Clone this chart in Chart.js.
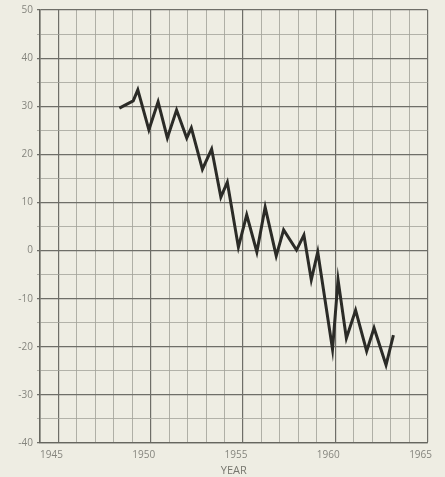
<!DOCTYPE html>
<html>
<head>
<meta charset="utf-8">
<script src="https://cdn.jsdelivr.net/npm/chart.js@4"></script>
<style>
  html, body { margin: 0; padding: 0; background: #eeede3; }
  #wrap { width: 445px; height: 477px; }
</style>
</head>
<body>
<div id="wrap"><canvas id="canvas" width="445" height="477"></canvas></div>
<script>
const years = [1948.3, 1949.05, 1949.3, 1949.9, 1950.4, 1950.9, 1951.4, 1951.95, 1952.2, 1952.8,
    1953.3, 1953.8, 1954.15, 1954.75, 1955.2, 1955.75, 1956.2, 1956.8, 1957.2, 1957.9,
    1958.3, 1958.7, 1959.05, 1959.85, 1960.15, 1960.6, 1961.1, 1961.7, 1962.1, 1962.75, 1963.15];
const values = [29.6, 31.1, 33.4, 25.1, 30.9, 23.4, 29.2, 23.4, 25.5, 16.9,
    21.1, 11.1, 14.2, 0.7, 7.4, -0.3, 9.0, -1.1, 4.3, 0.1,
    3.2, -6.1, -0.3, -20.5, -6.1, -18.2, -12.4, -20.9, -16.1, -23.8, -17.6];
const yearTicks = [1945, 1950, 1955, 1960, 1965];
const valueTicks = [50, 40, 30, 20, 10, 0, -10, -20, -30, -40];

const points = years.map((x, i) => ({ x: x, y: values[i] }));
const labelFont = { family: 'Open Sans', size: 10 };
const labelColor = '#85857e';

const ctx = document.getElementById('canvas').getContext('2d');
new Chart(ctx, {
    type: 'scatter',
    data: {
        datasets: [{
            data: points,
            showLine: true,
            borderColor: '#2b2b27',
            borderWidth: 3,
            pointRadius: 0,
            tension: 0
        }]
    },
    options: {
        responsive: false,
        animation: false,
        layout: { padding: { top: 10, right: 6, left: 0, bottom: 0 } },
        plugins: { legend: { display: false }, tooltip: { enabled: false } },
        scales: {
            x: {
                type: 'linear',
                min: 1944,
                max: 1965,
                afterFit: (scale) => { scale.height = 34; },
                border: { color: '#66665f', width: 1.3 },
                grid: {
                    drawTicks: false,
                    color: (c) => (c.tick && c.tick.value % 5 === 0) ? '#6e6e68' : '#9e9e97',
                    lineWidth: (c) => (c.tick && c.tick.value % 5 === 0) ? 1.2 : 0.8
                },
                ticks: {
                    stepSize: 1,
                    autoSkip: false,
                    maxRotation: 0,
                    padding: 6,
                    labelOffset: -7,
                    color: labelColor,
                    font: labelFont,
                    callback: (v) => yearTicks.includes(v) ? String(v) : ''
                },
                title: {
                    display: true,
                    text: 'YEAR',
                    color: '#77776f',
                    font: { family: 'Open Sans', size: 11 },
                    padding: { top: 0, bottom: 0 }
                }
            },
            y: {
                min: -40,
                max: 50,
                afterFit: (scale) => { scale.width = 40; },
                border: { color: '#66665f', width: 1.3 },
                grid: {
                    tickLength: 3,
                    color: (c) => (c.tick && c.tick.value % 10 === 0) ? '#6e6e68' : '#a2a29b',
                    lineWidth: (c) => (c.tick && c.tick.value % 10 === 0) ? 1.2 : 0.8
                },
                ticks: {
                    stepSize: 5,
                    autoSkip: false,
                    padding: 4,
                    color: labelColor,
                    font: labelFont,
                    callback: (v) => valueTicks.includes(v) ? String(v) : ''
                }
            }
        }
    }
});
</script>
</body>
</html>
